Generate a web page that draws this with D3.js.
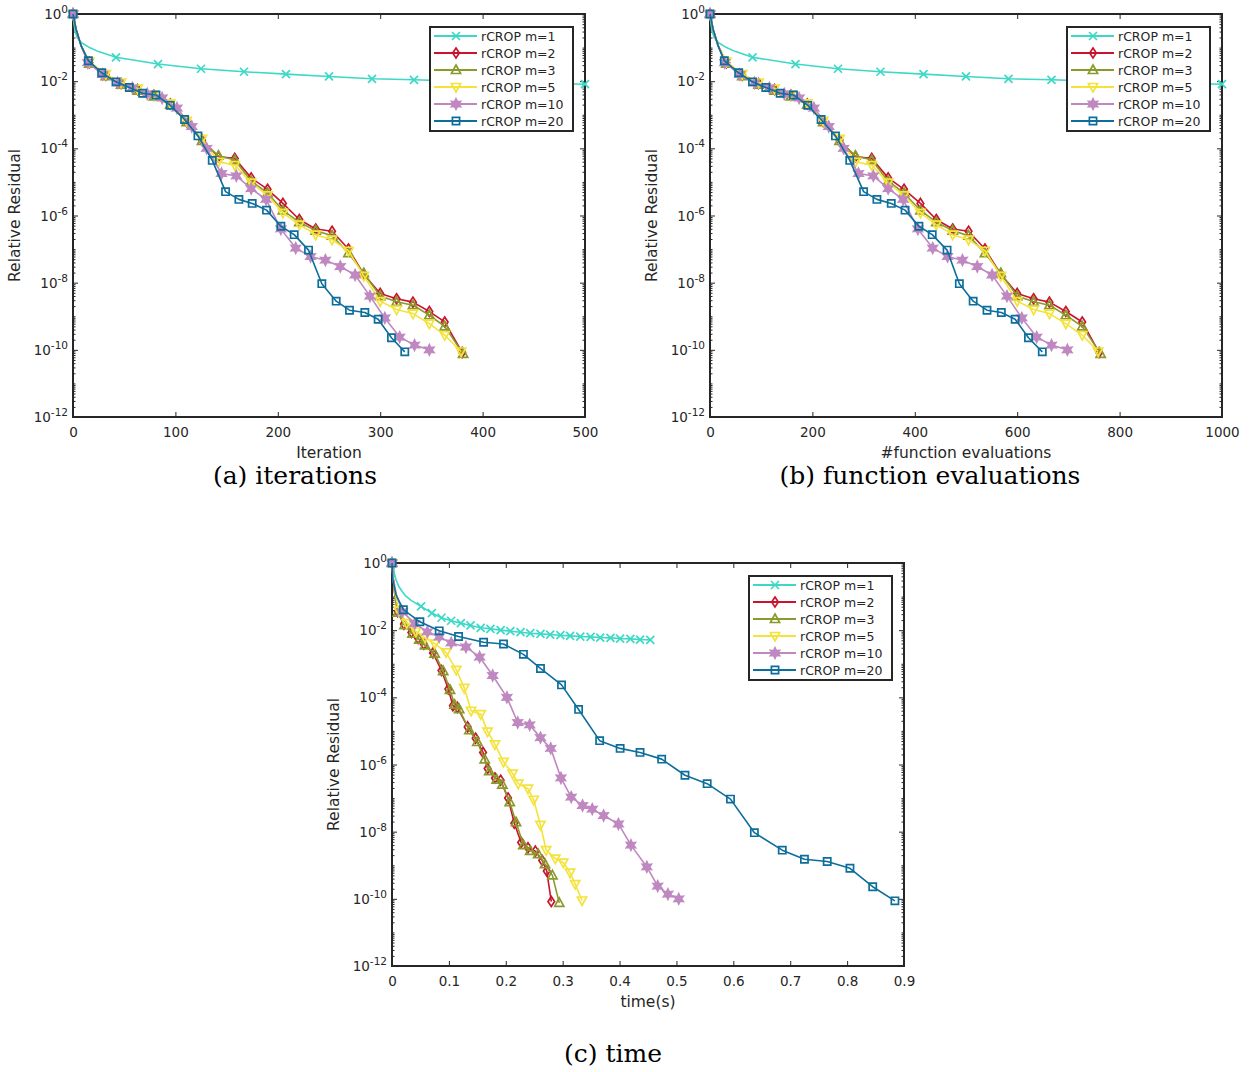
<!DOCTYPE html>
<meta charset="utf-8">
<style>
body { margin: 0; background: #fff; font-family: "DejaVu Sans", sans-serif; }
.caption { font-family: "DejaVu Serif", serif; font-size: 25px; fill: #000; }
</style>
<body>
<script src="https://cdn.jsdelivr.net/npm/d3@7"></script>
<script>

// log10 of relative residual at the plotted points (first point, a few unmarked points, then markers)
var logResM1 = [0, -0.3, -0.5, -0.7, -0.85, -0.98, -1.12, -1.29, -1.49, -1.63, -1.72, -1.79, -1.86, -1.93, -1.96, -2.0, -2.03, -2.06, -2.09,
                -2.11, -2.13, -2.15, -2.17, -2.19, -2.2, -2.22, -2.23, -2.25, -2.26, -2.28, -2.29];
var logResM2 = [0, -0.45, -0.95, -1.45, -1.82, -2.07, -2.25, -2.42, -2.68, -3.2, -3.75, -4.25, -4.3, -4.88, -5.22, -5.64, -6.12, -6.4, -6.47,
                -7.0, -7.75, -8.32, -8.48, -8.58, -8.86, -9.17, -10.08];
var logResM3 = [0, -0.45, -0.95, -1.48, -1.85, -2.1, -2.28, -2.45, -2.7, -3.22, -3.78, -4.22, -4.35, -4.98, -5.33, -5.85, -6.2, -6.45, -6.6,
                -7.12, -7.72, -8.4, -8.57, -8.67, -8.97, -9.3, -10.12];
var logResM5 = [0, -0.45, -0.95, -1.42, -1.79, -2.04, -2.22, -2.4, -2.66, -3.18, -3.72, -4.4, -4.5, -5.02, -5.4, -5.92, -6.27, -6.57, -6.72,
                -7.05, -7.8, -8.55, -8.8, -8.92, -9.22, -9.56, -10.05];
var logResM10 = [0, -0.45, -0.95, -1.45, -1.8, -2.05, -2.2, -2.38, -2.5, -2.8, -3.35, -4.0, -4.75, -4.82, -5.2, -5.52, -6.4, -6.97, -7.22,
                 -7.33, -7.52, -7.77, -8.4, -9.05, -9.62, -9.86, -10.0];
var logResM20 = [0, -0.45, -0.95, -1.39, -1.75, -2.02, -2.19, -2.36, -2.41, -2.72, -3.14, -3.63, -4.36, -5.29, -5.52, -5.64, -5.84, -6.32, -6.57,
                 -7.03, -8.03, -8.55, -8.82, -8.89, -9.09, -9.64, -10.06];

// iteration count at those points (m=1 shown only up to the axis limit)
var iterM1 = [0, 1, 2, 4, 8, 15, 25, 42, 83, 125, 167, 208, 250, 292, 333, 375, 417, 458, 500];
var iterM2 = [0, 3, 8, 16, 32, 47, 63, 79, 95, 111, 126, 142, 158, 174, 190, 205, 221, 237, 253, 269, 284, 300, 316, 332, 348, 363, 380];
var iterM3 = [0, 3, 8, 16, 32, 47, 63, 79, 95, 111, 126, 142, 158, 174, 190, 205, 221, 237, 253, 269, 284, 300, 316, 332, 348, 363, 381];
var iterM5 = [0, 3, 8, 16, 32, 47, 63, 79, 95, 111, 126, 142, 158, 174, 190, 205, 221, 237, 253, 269, 284, 300, 316, 332, 348, 363, 379];
var iterM10 = [0, 3, 8, 14.5, 29, 43.5, 58, 72.5, 87, 101.5, 116, 130.5, 145, 159.5, 174, 188.5, 203, 217.5, 232, 246.5, 261, 275.5, 290, 304.5, 319, 333.5, 348];
var iterM20 = [0, 3, 8, 15, 28, 42, 55, 68, 81, 95, 109, 122, 136, 149, 162, 175, 189, 203, 216, 230, 243, 257, 270, 285, 298, 311, 324];

// function evaluations at those points
var evalsM1 = [0, 2, 4, 8, 16, 30, 50, 83, 167, 250, 333, 417, 500, 583, 667, 750, 833, 917, 1000];
var evalsM2 = [0, 6, 16, 32, 63, 95, 126, 158, 190, 221, 253, 284, 316, 348, 379, 411, 442, 474, 505, 537, 568, 600, 632, 663, 695, 727, 760];
var evalsM3 = [0, 6, 16, 32, 63, 95, 126, 158, 190, 221, 253, 284, 316, 348, 379, 411, 442, 474, 505, 537, 568, 600, 632, 663, 695, 727, 763];
var evalsM5 = [0, 6, 16, 32, 63, 95, 126, 158, 190, 221, 253, 284, 316, 348, 379, 411, 442, 474, 505, 537, 568, 600, 632, 663, 695, 727, 758];
var evalsM10 = [0, 6, 16, 29, 58, 87, 116, 145, 174, 203, 232, 261, 290, 319, 348, 377, 406, 435, 464, 493, 522, 551, 580, 609, 638, 667, 698];
var evalsM20 = [0, 6, 16, 28, 56, 83, 109, 137, 163, 191, 217, 245, 273, 300, 326, 354, 381, 408, 434, 463, 487, 514, 541, 569, 596, 622, 649];

// wall time (s) at those points
var timeM1 = [0, 0.004, 0.007, 0.012, 0.018, 0.024, 0.034, 0.051, 0.070, 0.087, 0.104, 0.121, 0.138, 0.156, 0.173, 0.191, 0.208, 0.226, 0.243,
              0.261, 0.278, 0.296, 0.313, 0.331, 0.349, 0.366, 0.384, 0.401, 0.419, 0.436, 0.454];
var timeM2 = [0, 0.002, 0.005, 0.010, 0.021, 0.034, 0.046, 0.056, 0.072, 0.087, 0.099, 0.107, 0.115, 0.133, 0.147, 0.160, 0.168, 0.181, 0.191,
              0.204, 0.215, 0.227, 0.239, 0.252, 0.264, 0.272, 0.280];
var timeM3 = [0, 0.002, 0.005, 0.010, 0.022, 0.036, 0.048, 0.058, 0.075, 0.090, 0.102, 0.110, 0.118, 0.136, 0.150, 0.163, 0.171, 0.184, 0.194,
              0.207, 0.218, 0.231, 0.243, 0.257, 0.269, 0.282, 0.294];
var timeM5 = [0, 0.002, 0.006, 0.012, 0.026, 0.042, 0.058, 0.075, 0.095, 0.113, 0.127, 0.139, 0.156, 0.168, 0.181, 0.196, 0.212, 0.222, 0.239,
              0.249, 0.261, 0.271, 0.287, 0.301, 0.313, 0.322, 0.334];
var timeM10 = [0, 0.002, 0.008, 0.018, 0.040, 0.062, 0.083, 0.104, 0.130, 0.154, 0.177, 0.202, 0.221, 0.242, 0.261, 0.279, 0.297, 0.315, 0.335,
               0.352, 0.372, 0.398, 0.420, 0.448, 0.467, 0.485, 0.504];
var timeM20 = [0, 0.001, 0.007, 0.020, 0.049, 0.083, 0.117, 0.161, 0.196, 0.231, 0.261, 0.298, 0.328, 0.365, 0.401, 0.436, 0.474, 0.515, 0.554,
               0.595, 0.637, 0.686, 0.725, 0.765, 0.805, 0.845, 0.884];

var seriesNames = ["rCROP m=1", "rCROP m=2", "rCROP m=3", "rCROP m=5", "rCROP m=10", "rCROP m=20"];
var headCounts = [6, 2, 2, 2, 2, 2];   // unmarked points after the first one

var iterTicks = [0, 100, 200, 300, 400, 500],
    evalTicks = [0, 200, 400, 600, 800, 1000],
    timeTicks = [0, 0.1, 0.2, 0.3, 0.4, 0.5, 0.6, 0.7, 0.8, 0.9],
    yExpTicks = [0, -2, -4, -6, -8, -10, -12];

var seriesColors = ["#3dd8c6", "#c8142f", "#8a9a2b", "#f3e33b", "#c088c0", "#0d6e9c"],
    seriesSymbols = ["x", "diamond", "up", "down", "hex", "square"];

var series = seriesNames.map(function(name, i) {
  return {
    name: name, color: seriesColors[i], symbol: seriesSymbols[i], head: headCounts[i],
    logRes: [logResM1, logResM2, logResM3, logResM5, logResM10, logResM20][i],
    iter: [iterM1, iterM2, iterM3, iterM5, iterM10, iterM20][i],
    evals: [evalsM1, evalsM2, evalsM3, evalsM5, evalsM10, evalsM20][i],
    time: [timeM1, timeM2, timeM3, timeM5, timeM10, timeM20][i]
  };
});

var W = 512, H = 403, axisColor = "#262626";

var panels = [
  {left: 73, top: 14, key: "iter", domain: [0, 500], ticks: iterTicks, label: "Iteration", caption: "(a) iterations", capX: 295, capY: 484},
  {left: 710, top: 14, key: "evals", domain: [0, 1000], ticks: evalTicks, label: "#function evaluations", caption: "(b) function evaluations", capX: 930, capY: 484},
  {left: 392, top: 563, key: "time", domain: [0, 0.9], ticks: timeTicks, label: "time(s)", caption: "(c) time", capX: 613, capY: 1062}
];

var svg = d3.select("body").append("svg")
    .attr("width", 1250)
    .attr("height", 1072);

function symbolPath(type) {
  if (type == "x") return "M-4,-4L4,4M-4,4L4,-4";
  if (type == "diamond") return "M0,-5L3.3,0L0,5L-3.3,0Z";
  if (type == "up") return "M0,-5L4.6,3.5L-4.6,3.5Z";
  if (type == "down") return "M0,5L4.6,-3.5L-4.6,-3.5Z";
  if (type == "square") return "M-3.6,-3.6H3.6V3.6H-3.6Z";
  // hexagram
  var pts = d3.range(12).map(function(k) {
    var r = k % 2 ? 2.7 : 5.2, a = k * Math.PI / 6 - Math.PI / 2;
    return [r * Math.cos(a), r * Math.sin(a)];
  });
  return "M" + pts.join("L") + "Z";
}

function drawMarker(g, s, px, py) {
  g.append("path")
      .attr("d", symbolPath(s.symbol))
      .attr("transform", "translate(" + px + "," + py + ")")
      .attr("fill", s.symbol == "hex" ? s.color : "none")
      .attr("stroke", s.color)
      .attr("stroke-width", 1.7);
}

function styleAxis(sel) {
  sel.select(".domain").remove();
  sel.selectAll("line").attr("stroke", axisColor).attr("stroke-width", 1);
  sel.selectAll("text").attr("fill", axisColor).style("font-size", "13.5px").style("font-family", "DejaVu Sans");
}

function drawPanel(p) {
  var x = d3.scaleLinear().domain(p.domain).range([p.left, p.left + W]),
      y = d3.scaleLog().domain([1e-12, 1]).range([p.top + H, p.top]);

  var g = svg.append("g");

  var majors = yExpTicks.map(function(e) { return Math.pow(10, e); });
  var minors = [];
  for (var e = -12; e < 0; e++)
    for (var j = 1; j < 10; j++)
      if (!(j == 1 && e % 2 == 0)) minors.push(j * Math.pow(10, e));

  g.append("g")
      .attr("transform", "translate(0," + (p.top + H) + ")")
      .call(d3.axisBottom(x).tickValues(p.ticks).tickSize(-5).tickPadding(10).tickFormat(d3.format("~g")))
      .call(styleAxis);
  g.append("g")
      .attr("transform", "translate(0," + p.top + ")")
      .call(d3.axisTop(x).tickValues(p.ticks).tickSize(-5).tickFormat(""))
      .call(styleAxis);
  g.append("g")
      .attr("transform", "translate(" + p.left + ",0)")
      .call(d3.axisLeft(y).tickValues(majors).tickSize(-5).tickFormat(""))
      .call(styleAxis);
  g.append("g")
      .attr("transform", "translate(" + p.left + ",0)")
      .call(d3.axisLeft(y).tickValues(minors).tickSize(-2.5).tickFormat(""))
      .call(styleAxis);
  g.append("g")
      .attr("transform", "translate(" + (p.left + W) + ",0)")
      .call(d3.axisRight(y).tickValues(majors).tickSize(-5).tickFormat(""))
      .call(styleAxis);
  g.append("g")
      .attr("transform", "translate(" + (p.left + W) + ",0)")
      .call(d3.axisRight(y).tickValues(minors).tickSize(-2.5).tickFormat(""))
      .call(styleAxis);

  g.append("rect")
      .attr("x", p.left).attr("y", p.top)
      .attr("width", W).attr("height", H)
      .attr("fill", "none")
      .attr("stroke", axisColor)
      .attr("stroke-width", 1.2)
      .attr("shape-rendering", "crispEdges");

  // y tick labels 10^k
  yExpTicks.forEach(function(ex) {
    var t = g.append("text")
        .attr("x", p.left - 5)
        .attr("y", y(Math.pow(10, ex)) + 5)
        .attr("text-anchor", "end")
        .attr("fill", axisColor)
        .style("font-size", "13.5px");
    t.append("tspan").text("10");
    t.append("tspan").attr("dy", -6).style("font-size", "10.5px").text(ex == 0 ? "0" : "-" + (-ex));
  });

  g.append("text")
      .attr("x", p.left + W / 2)
      .attr("y", p.top + H + 41)
      .attr("text-anchor", "middle")
      .attr("fill", axisColor)
      .style("font-size", "15.5px")
      .text(p.label);

  g.append("text")
      .attr("transform", "translate(" + (p.left - 53) + "," + (p.top + H / 2) + ") rotate(-90)")
      .attr("text-anchor", "middle")
      .attr("fill", axisColor)
      .style("font-size", "15.5px")
      .text("Relative Residual");

  var line = d3.line();
  series.forEach(function(s) {
    var xs = s[p.key];
    var pts = xs.map(function(v, i) { return [x(v), y(Math.pow(10, s.logRes[i]))]; });
    g.append("path")
        .attr("d", line(pts))
        .attr("fill", "none")
        .attr("stroke", s.color)
        .attr("stroke-width", 1.6)
        .attr("stroke-linejoin", "round");
    pts.forEach(function(pt, i) {
      if (i > 0 && i <= s.head) return;
      drawMarker(g, s, pt[0], pt[1]);
    });
  });

  // legend
  var lx = p.left + W - 12 - 143, ly = p.top + 13;
  var leg = g.append("g").attr("transform", "translate(" + lx + "," + ly + ")");
  leg.append("rect")
      .attr("width", 143).attr("height", 104)
      .attr("fill", "#fff")
      .attr("stroke", axisColor)
      .attr("stroke-width", 1.2)
      .attr("shape-rendering", "crispEdges");
  series.forEach(function(s, i) {
    var ry = 9 + 17 * i;
    leg.append("line")
        .attr("x1", 4).attr("x2", 47)
        .attr("y1", ry).attr("y2", ry)
        .attr("stroke", s.color)
        .attr("stroke-width", 2);
    drawMarker(leg, s, 26, ry);
    leg.append("text")
        .attr("x", 51).attr("y", ry + 4.5)
        .attr("fill", axisColor)
        .style("font-size", "12.5px")
        .text(s.name);
  });

  svg.append("text")
      .attr("class", "caption")
      .attr("x", p.capX)
      .attr("y", p.capY)
      .attr("text-anchor", "middle")
      .text(p.caption);
}

panels.forEach(drawPanel);

</script>
